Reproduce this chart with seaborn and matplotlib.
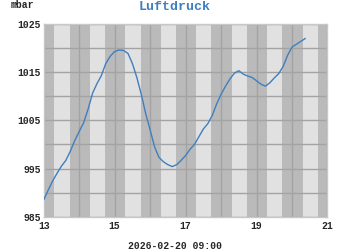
import matplotlib
matplotlib.use("Agg")
import matplotlib.pyplot as plt
import seaborn as sns
import pandas as pd

# --- data ---
days = [13.000, 13.125, 13.250, 13.375, 13.500, 13.625, 13.750, 13.875,
        14.000, 14.125, 14.250, 14.375, 14.500, 14.625, 14.750, 14.875,
        15.000, 15.125, 15.250, 15.375, 15.500, 15.625, 15.750, 15.875,
        16.000, 16.125, 16.250, 16.375, 16.500, 16.625, 16.750, 16.875,
        17.000, 17.125, 17.250, 17.375, 17.500, 17.625, 17.750, 17.875,
        18.000, 18.125, 18.250, 18.375, 18.500, 18.625, 18.750, 18.875,
        19.000, 19.125, 19.250, 19.375, 19.500, 19.625, 19.750, 19.875,
        20.000, 20.125, 20.250, 20.375]
pressure = [988.5, 990.5, 992.4, 994.0, 995.5, 996.7, 998.6, 1000.8,
            1002.7, 1004.5, 1007.3, 1010.6, 1012.6, 1014.3, 1016.8, 1018.3,
            1019.3, 1019.6, 1019.5, 1018.9, 1016.8, 1013.9, 1010.4, 1006.4,
            1003.0, 999.5, 997.3, 996.4, 995.8, 995.4, 995.8, 996.7,
            997.7, 999.0, 1000.0, 1001.6, 1003.2, 1004.3, 1006.0, 1008.4,
            1010.4, 1012.1, 1013.6, 1014.8, 1015.3, 1014.6, 1014.2, 1013.9,
            1013.2, 1012.5, 1012.1, 1012.8, 1013.8, 1014.7, 1016.2, 1018.5,
            1020.2, 1020.8, 1021.4, 1022.0]
x_ticks = [13, 15, 17, 19, 21]
x_tick_labels = ["13", "15", "17", "19", "21"]
y_ticks = [985, 995, 1005, 1015, 1025]
y_tick_labels = ["985", "995", "1005", "1015", "1025"]
title = "Luftdruck"
unit = "mbar"
timestamp = "2026-02-20 09:00"

df = pd.DataFrame({"day": days, "p": pressure})

sns.set_style("white")
plt.rcParams["font.family"] = ["Liberation Mono", "DejaVu Sans Mono"]
plt.rcParams["font.weight"] = "bold"

fig = plt.figure(figsize=(3.5, 2.5), dpi=100)
ax = fig.add_axes([0.1249, 0.1332, 0.8108, 0.7708])

dark = "#bababa"
light = "#e1e1e1"
ax.set_facecolor(light)
sunrise, sunset = 0.30, 0.73
for d in range(12, 22):
    ax.axvspan(d - (1 - sunset), d + sunrise, color=dark, lw=0, zorder=0)

sns.lineplot(data=df, x="day", y="p", ax=ax, color="#3f7fbf", lw=1.0, zorder=3)

ax.set_xlim(13, 21)
ax.set_ylim(985, 1025)
for d in range(13, 22):
    ax.axvline(d, color="#a3a3a3", lw=1.0, zorder=1)
for v in range(985, 1026, 5):
    ax.axhline(v, color="#a3a3a3", lw=1.0, zorder=1)

ax.set_xticks(x_ticks)
ax.set_xticklabels(x_tick_labels)
ax.set_yticks(y_ticks)
ax.set_yticklabels(y_tick_labels)
ax.tick_params(axis="x", length=0, labelsize=7, pad=3)
ax.tick_params(axis="y", length=0, labelsize=7, pad=2)
for lab in ax.get_xticklabels() + ax.get_yticklabels():
    lab.set_fontweight("bold")
ax.set_xlabel("")
ax.set_ylabel("")
for s in ax.spines.values():
    s.set_color("#c8c8c8")
    s.set_linewidth(1.0)

fig.text(0.5, 0.972, title, ha="center", va="center", fontsize=9.5,
         fontweight="bold", color="#3f7fbf")
fig.text(0.03, 0.978, unit, ha="left", va="center", fontsize=7, fontweight="bold")
fig.text(0.5, 0.016, timestamp, ha="center", va="center", fontsize=7,
         fontweight="bold")

fig.savefig("out.png", dpi=100)
